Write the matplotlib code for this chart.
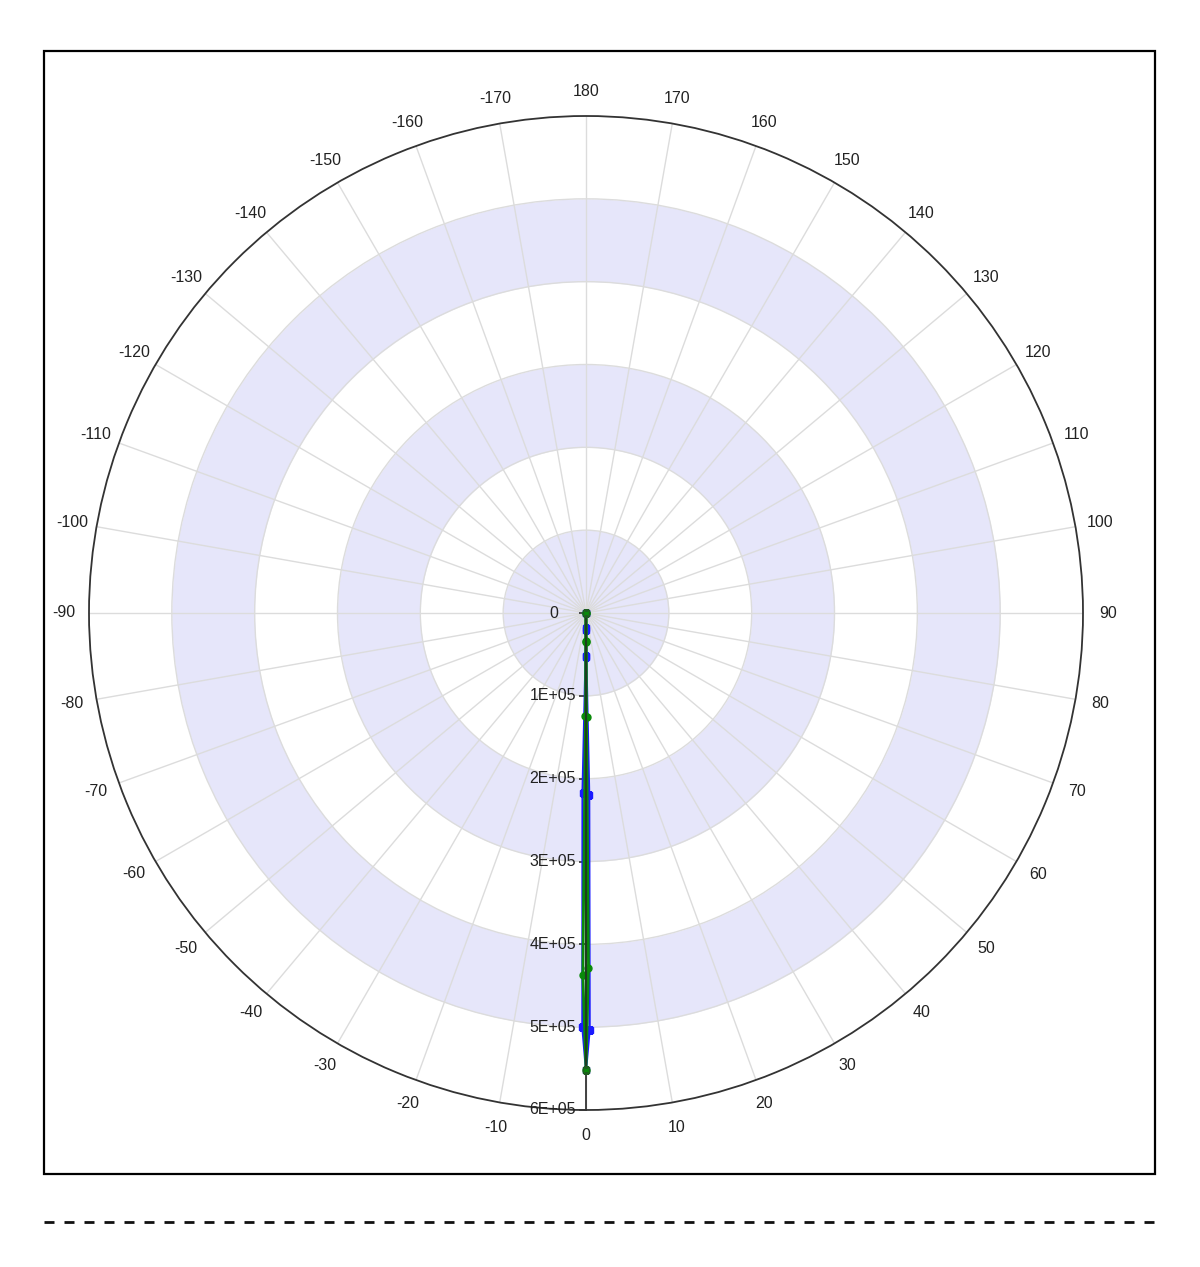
import numpy as np
import matplotlib
matplotlib.use('Agg')
import matplotlib.pyplot as plt
from matplotlib.patches import Rectangle
from matplotlib.lines import Line2D

plt.rcParams['font.family'] = ['Liberation Sans', 'DejaVu Sans']

# series values (angle in degrees, radius)
blue_theta = [0, -0.4, -0.5, -1.1, -0.5, 0, 0.5, 1.0, 0.4, 0.3, 0]
blue_r = [0, 20000, 52000, 217000, 500000, 552000, 503000, 220000, 53000, 18000, 0]
green_theta = [0, -0.2, -0.3, -0.5, 0, 0.4, 0.3, 0.2, 0]
green_r = [0, 34000, 124000, 437000, 552000, 428000, 126000, 35000, 0]
end_theta = [0, 0]
end_r = [0, 552000]

r_ticks = [0, 100000, 200000, 300000, 400000, 500000, 600000]
r_labels = ['0', '1E+05', '2E+05', '3E+05', '4E+05', '5E+05', '6E+05']
band_edges = [(0, 100000), (200000, 300000), (400000, 500000)]
theta_ticks = list(range(0, 360, 10))
theta_labels = [str(d if d <= 180 else d - 360) for d in theta_ticks]

fig = plt.figure(figsize=(12, 12.67), dpi=100)
ax = fig.add_axes([89 / 1200, 157 / 1267, 994 / 1200, 994 / 1267], projection='polar')
ax.set_theta_zero_location('S')
ax.set_theta_direction(1)
ax.set_ylim(0, 600000)

# shaded bands
tt = np.linspace(0, 2 * np.pi, 721)
for r0, r1 in band_edges:
    ax.fill_between(tt, r0, r1, color='#e6e6fa', lw=0, zorder=0)

ax.set_xticks(np.deg2rad(theta_ticks))
ax.set_xticklabels(theta_labels, fontsize=11.5, color='#222222')
ax.tick_params(axis='x', pad=5, direction='out', length=6, width=1, colors='#222222')
ax.set_yticks(r_ticks[1:-1])
ax.set_yticklabels([])
ax.grid(True, color='#dcdcdc', lw=1)
ax.spines['polar'].set_color('#333333')
ax.spines['polar'].set_linewidth(1.3)

# radial axis along 0 deg
ax.plot([0, 0], [0, 600000], color='#333333', lw=1.3, zorder=3)
ax.plot([0] * len(r_ticks), r_ticks, ls='none', marker=0, markersize=5,
        markeredgecolor='#333333', markeredgewidth=1.2, zorder=3, clip_on=False)
for r, lab in zip(r_ticks, r_labels):
    dx = -28 if r == 0 else -10
    ax.annotate(lab, xy=(0, r), xytext=(dx, 0), textcoords='offset pixels',
                ha='right', va='center', fontsize=11.5, color='#222222',
                annotation_clip=False, zorder=4)

# data
ax.plot(np.deg2rad(blue_theta), blue_r, color='#1a1aff', lw=1.6, marker='s',
        markersize=5, zorder=5)
ax.plot(np.deg2rad(green_theta), green_r, color='#0a8a0a', lw=2, marker='o',
        markersize=5, zorder=6)
ax.plot(np.deg2rad(end_theta), end_r, color='#1e3d1e', lw=1.5, zorder=6)
ax.plot(np.deg2rad(end_theta), end_r, ls='none', marker='s', markersize=5,
        color='#0a8a0a', markeredgecolor='#1e5d1e', zorder=7)

# frame and dashed separator
fig.patches.append(Rectangle((44 / 1200, 93 / 1267), 1111 / 1200, 1123 / 1267,
                             transform=fig.transFigure, fill=False,
                             edgecolor='black', lw=1.6))
fig.lines.append(Line2D([44 / 1200, 1160 / 1200], [45 / 1267, 45 / 1267],
                        transform=fig.transFigure, color='#111111', lw=2,
                        dashes=(3.6, 3.6)))

fig.savefig('out.png', dpi=100)
